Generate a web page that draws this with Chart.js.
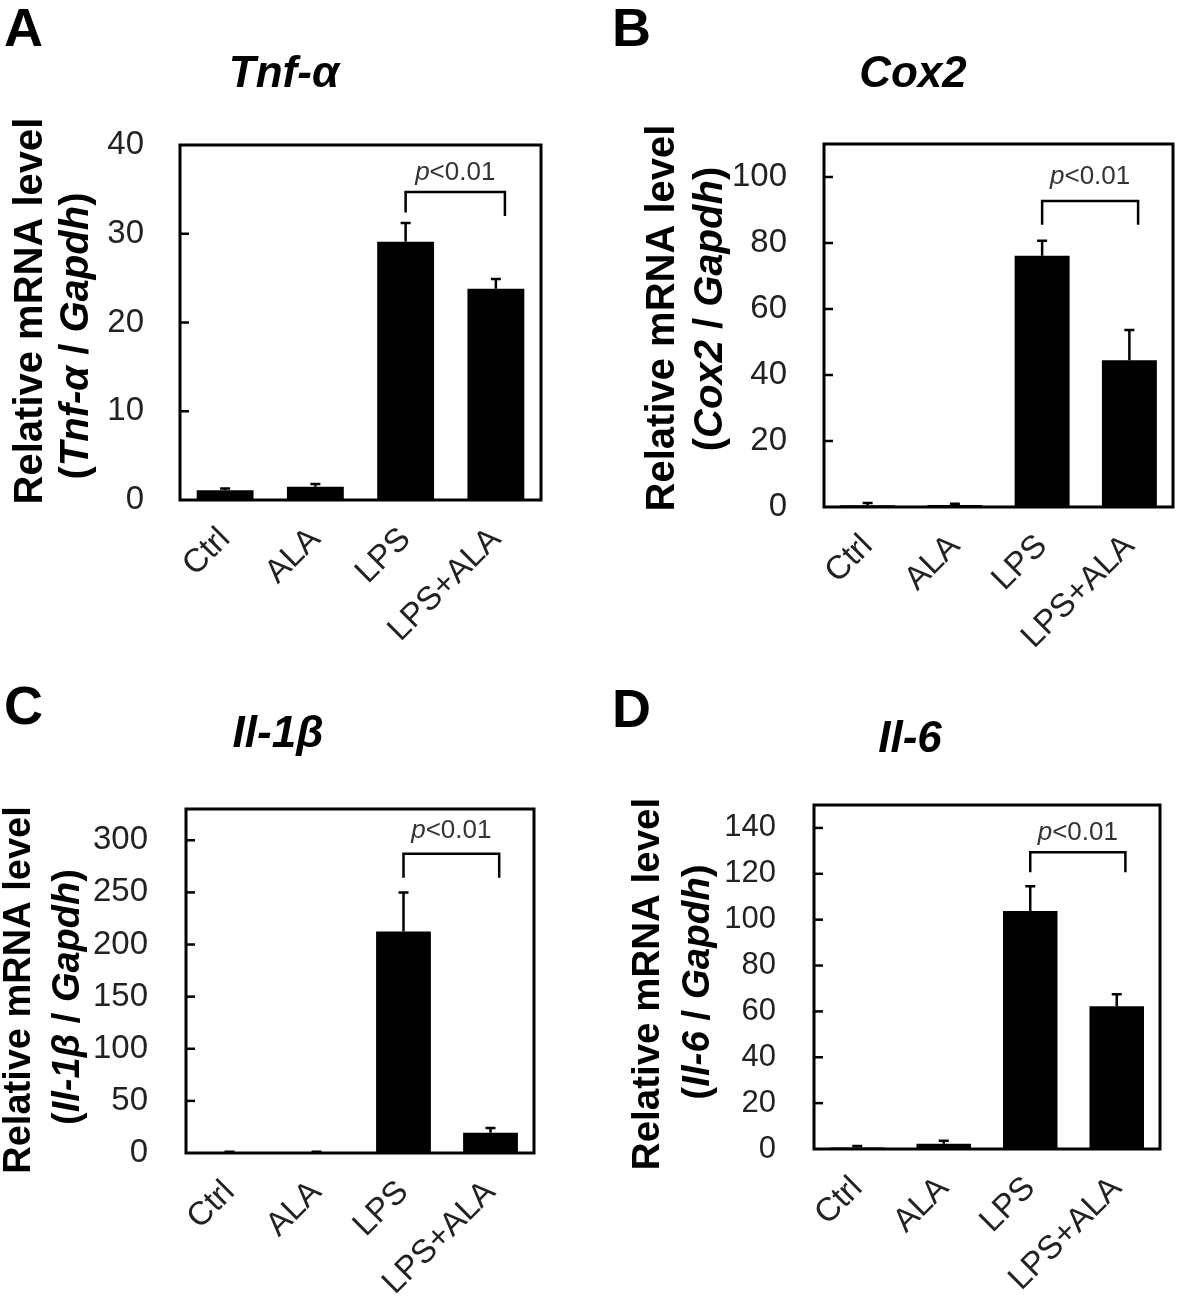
<!DOCTYPE html>
<html>
<head>
<meta charset="utf-8">
<script src="https://cdn.jsdelivr.net/npm/chart.js@4.4.0/dist/chart.umd.min.js"></script>
<style>
  body { margin: 0; background: #fff; width: 1181px; height: 1302px; position: relative; overflow: hidden;
         font-family: "Liberation Sans", Arial, sans-serif; }
  canvas { position: absolute; }
  .tag { position: absolute; font-weight: bold; font-size: 54px; line-height: 54px; color: #000; }
</style>
</head>
<body>
<div class="tag" style="left:4px;top:0px">A</div>
<div class="tag" style="left:612px;top:0px">B</div>
<div class="tag" style="left:4px;top:678px">C</div>
<div class="tag" style="left:612px;top:681px">D</div>

<canvas id="chartA" width="560" height="650" style="left:0;top:0"></canvas>
<canvas id="chartB" width="581" height="650" style="left:600px;top:0"></canvas>
<canvas id="chartC" width="560" height="652" style="left:0;top:650px"></canvas>
<canvas id="chartD" width="581" height="652" style="left:600px;top:650px"></canvas>

<script>
const groups = ["Ctrl", "ALA", "LPS", "LPS+ALA"];

// Tnf-a
const tnfMean = [1.1, 1.5, 29.1, 23.8];
const tnfErr = [0.2, 0.3, 2.1, 1.1];
const tnfTicks = [0, 10, 20, 30, 40];

// Cox2
const cox2Mean = [0.5, 0.6, 76.1, 44.5];
const cox2Err = [0.7, 0.4, 4.6, 9.1];
const cox2Ticks = [0, 20, 40, 60, 80, 100];

// Il-1b
const il1bMean = [1.0, 0.9, 212.6, 19.5];
const il1bErr = [0.2, 0.2, 37.4, 4.5];
const il1bTicks = [0, 50, 100, 150, 200, 250, 300];

// Il-6
const il6Mean = [0.6, 2.3, 103.8, 62.3];
const il6Err = [0.7, 1.3, 10.8, 5.2];
const il6Ticks = [0, 20, 40, 60, 80, 100, 120, 140];

const FONT = '"Liberation Sans", Arial, sans-serif';

const panels = [
  { id: "chartA", gene: "Tnf-α", mean: tnfMean, err: tnfErr, ticks: tnfTicks, yMax: 40,
    x0: 0, y0: 0, padL: 27, padR: 19, yWidth: 153, xHeight: 150, titleTop: 48.6, titleBottom: 43.6,
    tickPad: 28, tickSize: 33, labSize: 40, line1: [31, 311], line2: [77, 336],
    bracket: { top: 34.7, left: 32.4, right: 32.0, label: 36.9 } },
  { id: "chartB", gene: "Cox2", mean: cox2Mean, err: cox2Err, ticks: cox2Ticks, yMax: 110,
    x0: 600, y0: 0, padL: 53, padR: 8, yWidth: 171, xHeight: 143, titleTop: 48.6, titleBottom: 42.6,
    tickPad: 29, tickSize: 33, labSize: 40, line1: [663, 318], line2: [711, 309],
    bracket: { top: 92.7, left: 85.5, right: 85.5, label: 100 } },
  { id: "chartC", gene: "Il-1β", mean: il1bMean, err: il1bErr, ticks: il1bTicks, yMax: 330,
    x0: 0, y0: 650, padL: 22, padR: 26, yWidth: 164, xHeight: 149, titleTop: 58.6, titleBottom: 47.6,
    tickPad: 30, tickSize: 33, labSize: 38, line1: [20, 990], line2: [69, 997],
    bracket: { top: 287, left: 264, right: 264, label: 309 } },
  { id: "chartD", gene: "Il-6", mean: il6Mean, err: il6Err, ticks: il6Ticks, yMax: 150,
    x0: 600, y0: 650, padL: 60, padR: 21, yWidth: 154, xHeight: 153, titleTop: 63.6, titleBottom: 38.6,
    tickPad: 30, tickSize: 31, labSize: 38.5, line1: [648, 984], line2: [698, 982],
    bracket: { top: 129.4, left: 120.7, right: 120.7, label: 137.7 } }
];

function drawRich(ctx, segs, cx, cy, size, rotate) {
  ctx.save();
  ctx.translate(cx, cy);
  if (rotate) ctx.rotate(-Math.PI / 2);
  let total = 0;
  segs.forEach(s => {
    ctx.font = (s[1] ? "italic " : "") + s[2] + " " + size + "px " + FONT;
    total += ctx.measureText(s[0]).width;
  });
  let x = -total / 2;
  ctx.textAlign = "left";
  ctx.textBaseline = "middle";
  segs.forEach(s => {
    ctx.font = (s[1] ? "italic " : "") + s[2] + " " + size + "px " + FONT;
    ctx.fillText(s[0], x, 0);
    x += ctx.measureText(s[0]).width;
  });
  ctx.restore();
}

function makeChart(p) {
  const decor = {
    id: "decor",
    afterDraw(chart) {
      const ctx = chart.ctx;
      const area = chart.chartArea;
      const ys = chart.scales.y;
      const bars = chart.getDatasetMeta(0).data;
      ctx.save();
      ctx.strokeStyle = "#000";
      ctx.fillStyle = "#000";

      // error bars (upper only)
      ctx.lineWidth = 2.5;
      bars.forEach((bar, i) => {
        const yTop = ys.getPixelForValue(p.mean[i] + p.err[i]);
        ctx.beginPath();
        ctx.moveTo(bar.x, bar.y);
        ctx.lineTo(bar.x, yTop);
        ctx.moveTo(bar.x - 5, yTop);
        ctx.lineTo(bar.x + 5, yTop);
        ctx.stroke();
      });

      // frame and inward ticks
      ctx.lineWidth = 3;
      ctx.strokeRect(area.left, area.top, area.right - area.left, area.bottom - area.top);
      ctx.lineWidth = 2.5;
      p.ticks.forEach(v => {
        if (v === 0 || v >= p.yMax) return;
        const y = ys.getPixelForValue(v);
        ctx.beginPath();
        ctx.moveTo(area.left, y);
        ctx.lineTo(area.left + 9, y);
        ctx.stroke();
      });

      // significance bracket
      const cat = (area.right - area.left) / groups.length;
      const xL = bars[2].x;
      const xR = bars[3].x + cat * 0.1;
      const b = p.bracket;
      ctx.beginPath();
      ctx.moveTo(xL, ys.getPixelForValue(b.left));
      ctx.lineTo(xL, ys.getPixelForValue(b.top));
      ctx.lineTo(xR, ys.getPixelForValue(b.top));
      ctx.lineTo(xR, ys.getPixelForValue(b.right));
      ctx.stroke();
      ctx.fillStyle = "#333";
      drawRich(ctx, [["p", true, "normal"], ["<0.01", false, "normal"]],
        (xL + xR) / 2, ys.getPixelForValue(b.label), 26, false);

      // y axis title, two lines
      ctx.fillStyle = "#000";
      drawRich(ctx, [["Relative mRNA level", false, "bold"]],
        p.line1[0] - p.x0, p.line1[1] - p.y0, p.labSize, true);
      drawRich(ctx, [["(", false, "bold"], [p.gene, true, "bold"], [" / ", false, "bold"],
        ["Gapdh", true, "bold"], [")", false, "bold"]],
        p.line2[0] - p.x0, p.line2[1] - p.y0, p.labSize, true);
      ctx.restore();
    }
  };

  return new Chart(document.getElementById(p.id), {
    type: "bar",
    data: {
      labels: groups,
      datasets: [{
        data: p.mean,
        backgroundColor: "#000",
        borderWidth: 0,
        barPercentage: 0.63,
        categoryPercentage: 1
      }]
    },
    options: {
      responsive: false,
      animation: false,
      layout: { padding: { left: p.padL, right: p.padR, top: 0, bottom: 0 } },
      plugins: {
        legend: { display: false },
        tooltip: { enabled: false },
        title: {
          display: true,
          text: p.gene,
          color: "#000",
          font: { family: FONT, size: 44, weight: "bold", style: "italic", lineHeight: 1.2 },
          padding: { top: p.titleTop, bottom: p.titleBottom }
        }
      },
      scales: {
        x: {
          grid: { display: false },
          border: { display: false },
          ticks: { maxRotation: 45, minRotation: 45, color: "#222", padding: 12,
                   font: { family: FONT, size: 33 } },
          afterFit(s) { s.height = p.xHeight; }
        },
        y: {
          min: 0,
          max: p.yMax,
          grid: { display: false },
          border: { display: false },
          ticks: { color: "#222", padding: p.tickPad, font: { family: FONT, size: p.tickSize } },
          afterBuildTicks(s) { s.ticks = p.ticks.map(v => ({ value: v })); },
          afterFit(s) { s.width = p.yWidth; }
        }
      }
    },
    plugins: [decor]
  });
}

panels.forEach(makeChart);
</script>
</body>
</html>
